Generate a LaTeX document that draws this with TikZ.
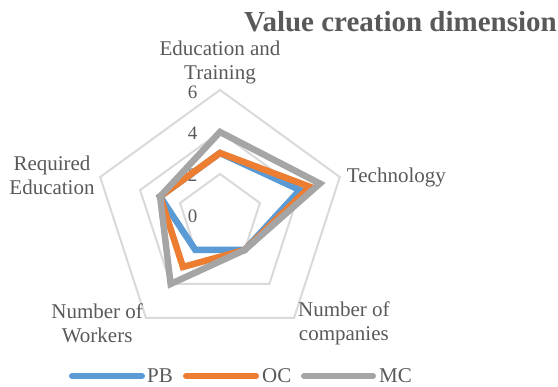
\documentclass[tikz,border=0pt]{standalone}
\usepackage{fontspec}
\setmainfont{Liberation Serif}
\definecolor{pbblue}{HTML}{5B9BD5}
\definecolor{ocorange}{HTML}{ED7D31}
\definecolor{mcgray}{HTML}{A5A5A5}
\definecolor{gridgray}{HTML}{D9D9D9}
\definecolor{txtgray}{HTML}{595959}
\tikzset{
    series/.style={line width=6.5pt},
    legline/.style={line width=6pt, line cap=round},
    axlabel/.style={text=txtgray, font=\fontsize{21}{24}\selectfont, align=center, inner sep=0},
}

\begin{document}
\begin{tikzpicture}[x=1pt, y=1pt]
        \useasboundingbox (0,0) rectangle (558,387);
        \node[anchor=base east, inner sep=0, text=txtgray, font=\bfseries\fontsize{29}{32}\selectfont] (title) at (557,355) {Value creation dimension};
        \begin{scope}[shift={(220,171)}, x=21pt, y=21pt]
            % grid
            \foreach \r in {2,4,6}
                \draw[gridgray, line width=2pt] (90:\r) -- (18:\r) -- (-54:\r) -- (-126:\r) -- (162:\r) -- cycle;
            \foreach \r in {0,2,4,6}
                \node[text=txtgray, inner sep=0, font=\fontsize{19}{20}\selectfont] (tick\r) at (-1.3,\r*0.98) {\r};
            % series
            \draw[series, pbblue] (90:3) -- (18:4) -- (-54:2) -- (-126:2) -- (162:3) -- cycle;
            \draw[series, ocorange] (90:3) -- (18:4.5) -- (-54:2) -- (-126:3) -- (162:3) -- cycle;
            \draw[series, mcgray] (90:4) -- (18:5) -- (-54:2) -- (-126:4) -- (162:3) -- cycle;
            % axis labels
            \node[axlabel] (edu) at (0,7.3) {Education and\\Training};
            \node[axlabel] (tech) at (8.4,1.85) {Technology};
            \node[axlabel] (comp) at (5.9,-5.1) {Number of\\companies};
            \node[axlabel] (work) at (-5.85,-5.1) {Number of\\Workers};
            \node[axlabel] (req) at (-8,1.95) {Required\\Education};
        \end{scope}
        % legend
        \node[axlabel, anchor=west] (pb) at (147,11) {PB};
        \node[axlabel, anchor=west] (oc) at (262,11) {OC};
        \node[axlabel, anchor=west] (mc) at (379,11) {MC};
        \draw[legline, pbblue] (72,11) -- (142,11);
        \draw[legline, ocorange] (186,11) -- (256,11);
        \draw[legline, mcgray] (304,11) -- (373,11);
    \end{tikzpicture}
\end{document}
